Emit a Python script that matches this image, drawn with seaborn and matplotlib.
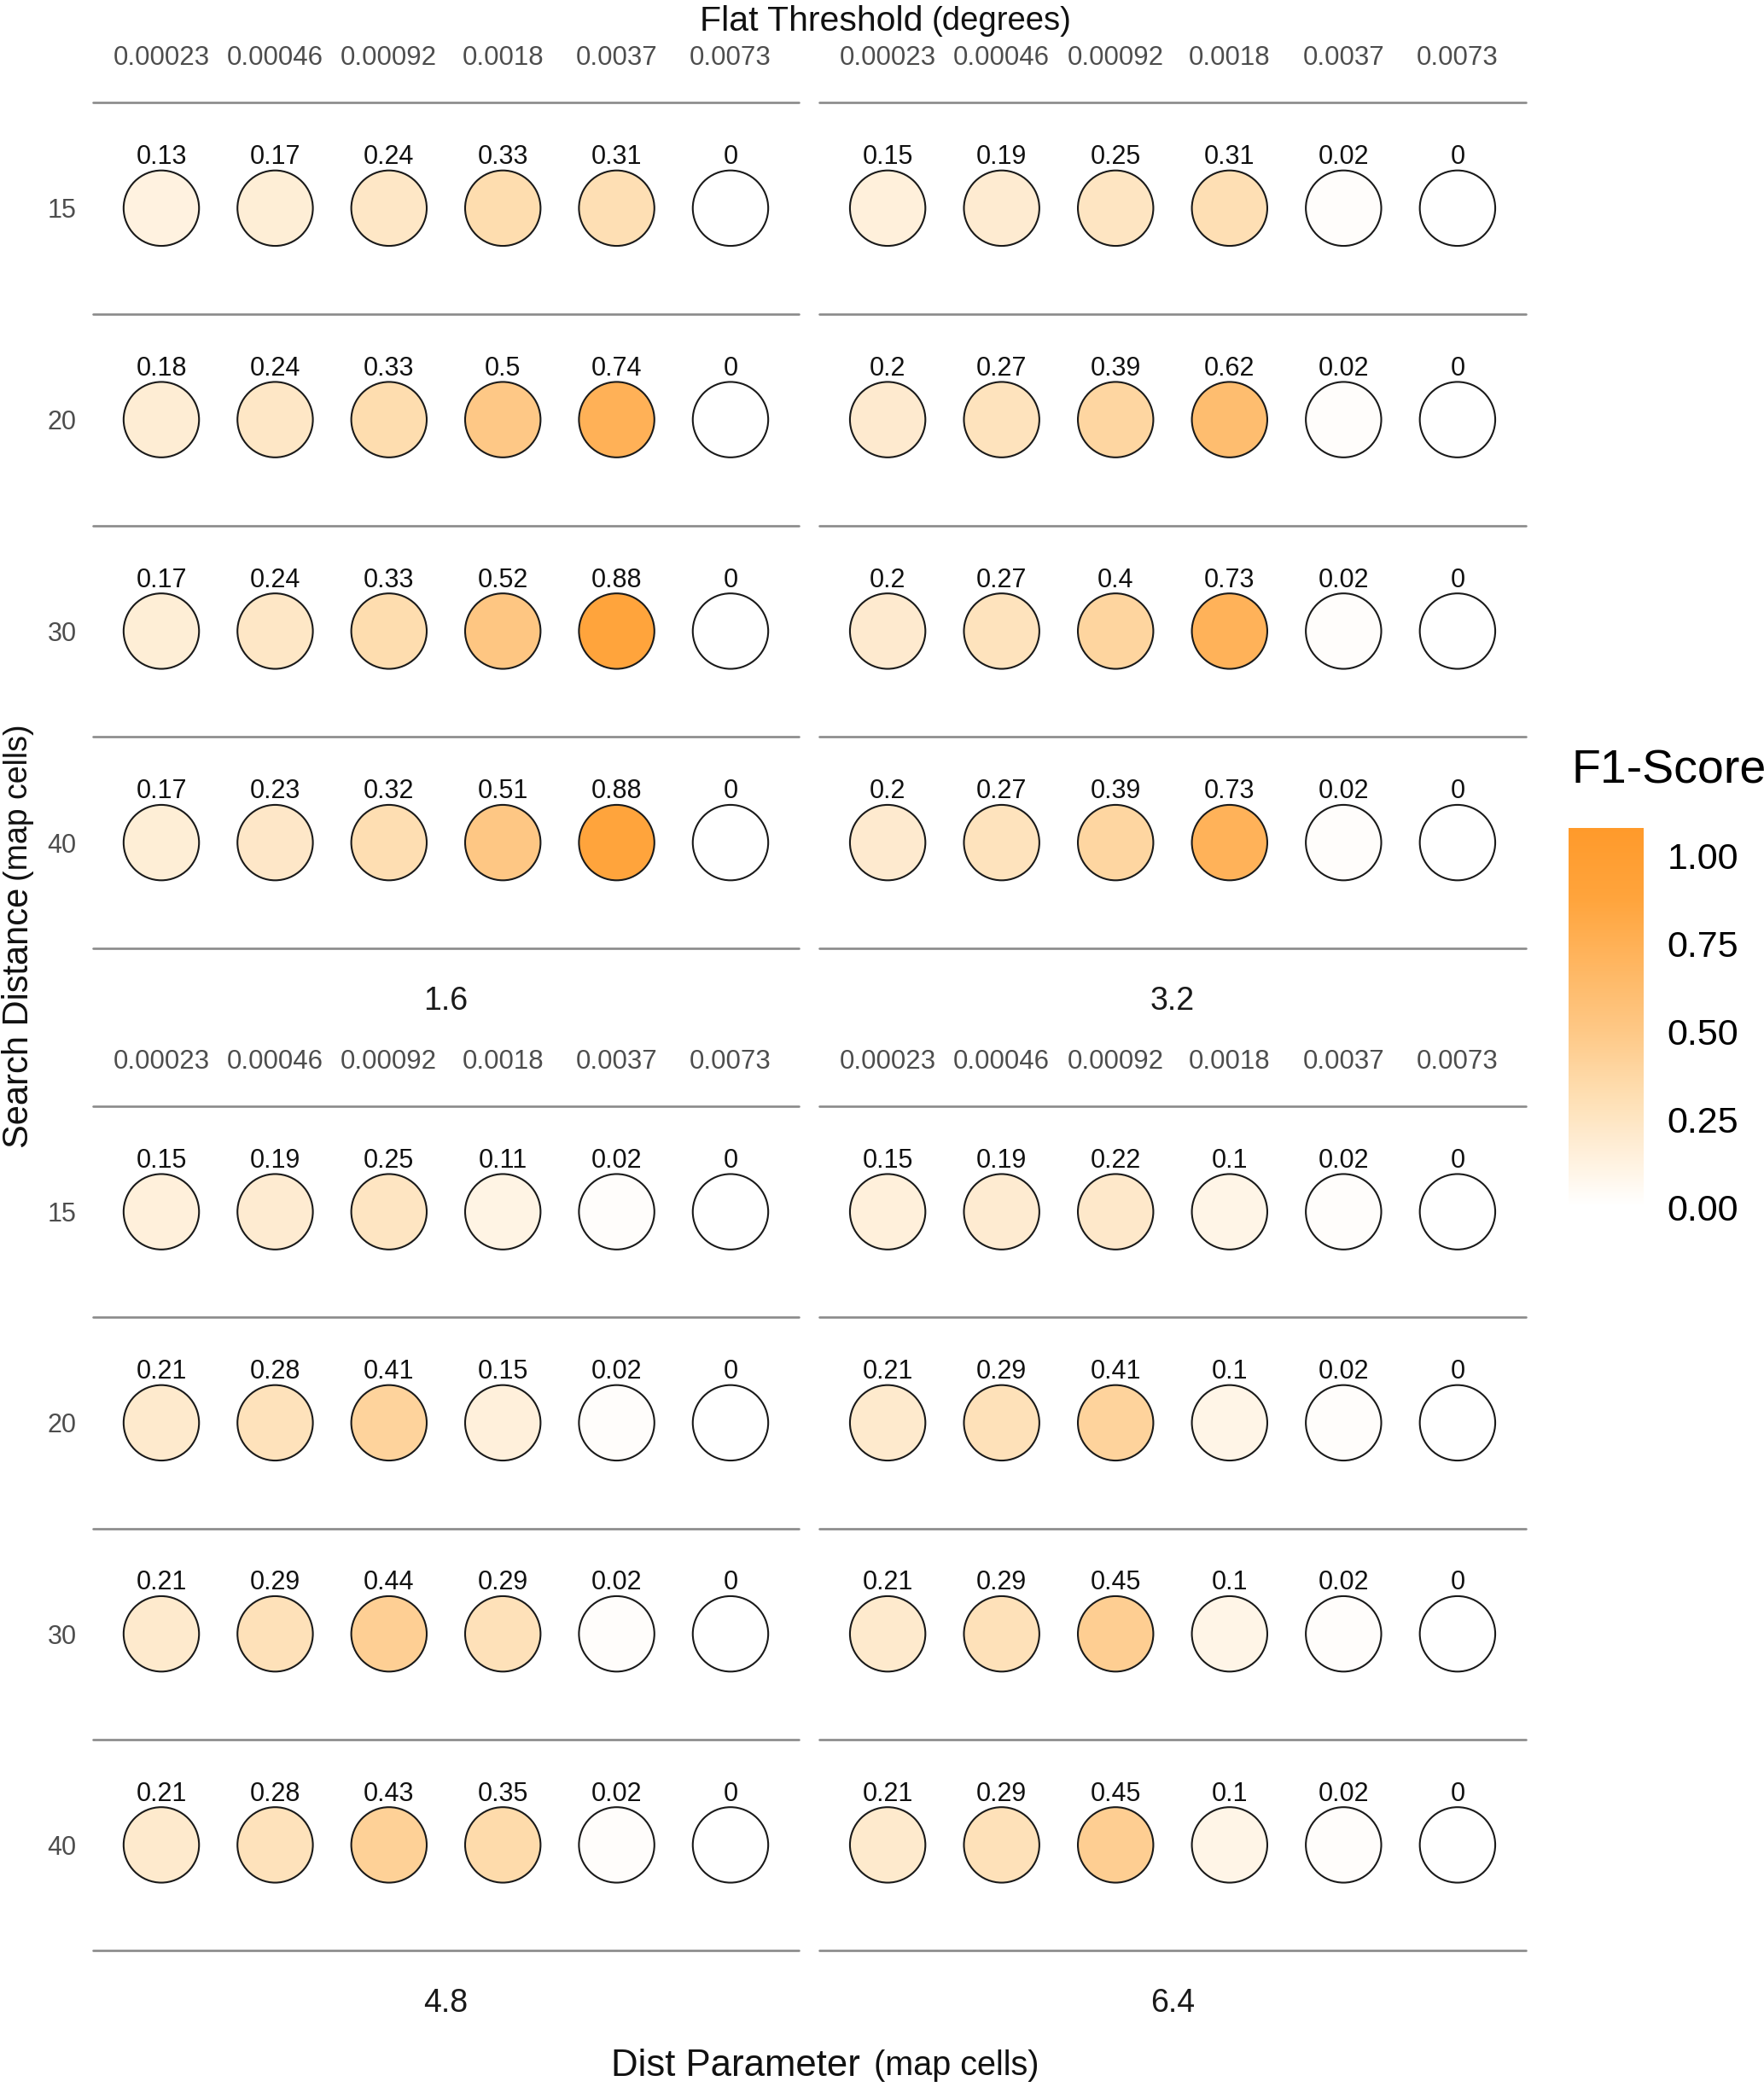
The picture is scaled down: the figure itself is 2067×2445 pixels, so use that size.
import numpy as np
import pandas as pd
import matplotlib
matplotlib.use("Agg")
import matplotlib.pyplot as plt
import matplotlib.colors as mcolors
import seaborn as sns

# data
dist_params = ["1.6", "3.2", "4.8", "6.4"]
search_distances = ["15", "20", "30", "40"]
flat_thresholds = ["0.00023", "0.00046", "0.00092", "0.0018", "0.0037", "0.0073"]

f1_d16 = [[0.13, 0.17, 0.24, 0.33, 0.31, 0],
          [0.18, 0.24, 0.33, 0.5, 0.74, 0],
          [0.17, 0.24, 0.33, 0.52, 0.88, 0],
          [0.17, 0.23, 0.32, 0.51, 0.88, 0]]
f1_d32 = [[0.15, 0.19, 0.25, 0.31, 0.02, 0],
          [0.2, 0.27, 0.39, 0.62, 0.02, 0],
          [0.2, 0.27, 0.4, 0.73, 0.02, 0],
          [0.2, 0.27, 0.39, 0.73, 0.02, 0]]
f1_d48 = [[0.15, 0.19, 0.25, 0.11, 0.02, 0],
          [0.21, 0.28, 0.41, 0.15, 0.02, 0],
          [0.21, 0.29, 0.44, 0.29, 0.02, 0],
          [0.21, 0.28, 0.43, 0.35, 0.02, 0]]
f1_d64 = [[0.15, 0.19, 0.22, 0.1, 0.02, 0],
          [0.21, 0.29, 0.41, 0.1, 0.02, 0],
          [0.21, 0.29, 0.45, 0.1, 0.02, 0],
          [0.21, 0.29, 0.45, 0.1, 0.02, 0]]
f1_all = [f1_d16, f1_d32, f1_d48, f1_d64]

rows = []
for d, grid in zip(dist_params, f1_all):
    for i, sd in enumerate(search_distances):
        for j, ft in enumerate(flat_thresholds):
            rows.append({"dist": d, "search": sd, "flat": ft,
                         "xi": j, "yi": i, "f1": grid[i][j]})
df = pd.DataFrame(rows)

sns.set_theme(style="white")
plt.rcParams["font.family"] = ["Liberation Sans", "DejaVu Sans"]

W, H = 2067, 2445
fig = plt.figure(figsize=(W / 100, H / 100), dpi=100)

VMAX = 1.08
cmap = mcolors.LinearSegmentedColormap.from_list(
    "f1", [(0, "#FFFFFF"), (0.33 / VMAX, "#FEDDAF"), (0.5 / VMAX, "#FEC886"),
           (0.88 / VMAX, "#FFA43C"), (1.0, "#FF9A2B")])
norm = mcolors.Normalize(0, VMAX)


def px_axes(x0, y0, x1, y1):
    return fig.add_axes([x0 / W, 1 - y1 / H, (x1 - x0) / W, (y1 - y0) / H])


panel_x = [(109, 936), (960, 1788)]
panel_y = [(120, 1111), (1296, 2285)]
grey = "#4D4D4D"

for k, d in enumerate(dist_params):
    r, c = divmod(k, 2)
    ax = px_axes(panel_x[c][0], panel_y[r][0], panel_x[c][1], panel_y[r][1])
    sub = df[df["dist"] == d]
    for yl in np.arange(-0.5, 4, 1):
        ax.axhline(yl, color="#8A8A8A", lw=1.9, zorder=0, clip_on=False)
    sns.scatterplot(data=sub, x="xi", y="yi", hue="f1", palette=cmap,
                    hue_norm=norm, s=4050, edgecolor="#1A1A1A", linewidth=1.5,
                    legend=False, ax=ax, zorder=3)
    for _, p in sub.iterrows():
        ax.annotate(f"{p['f1']:g}", (p["xi"], p["yi"]), xytext=(0, 43),
                    textcoords="offset points", ha="center", va="center",
                    fontsize=22, color="#111111")
    ax.set_xlim(-0.6, 5.6)
    ax.set_ylim(3.5, -0.5)
    ax.set_xticks(range(len(flat_thresholds)))
    ax.set_xticklabels(flat_thresholds)
    ax.xaxis.tick_top()
    ax.tick_params(axis="x", length=0, pad=27, labelsize=22.5, labelcolor=grey)
    ax.set_yticks(range(len(search_distances)))
    if c == 0:
        ax.set_yticklabels(search_distances)
        ax.tick_params(axis="y", length=0, pad=14, labelsize=22, labelcolor=grey)
    else:
        ax.set_yticklabels([])
        ax.tick_params(axis="y", length=0)
    ax.set_xlabel("")
    ax.set_ylabel("")
    for s in ax.spines.values():
        s.set_visible(False)
    ax.set_facecolor("none")
    ax.text(0.5, -62 / 990, d, transform=ax.transAxes, ha="center",
            va="center", fontsize=27, color="#1A1A1A")

# axis titles
fig.text(1082 / W, 1 - 25 / H, "Flat Threshold", ha="right", va="center",
         fontsize=29.5, color="#111111")
fig.text(1092 / W, 1 - 25 / H, "(degrees)", ha="left", va="center",
         fontsize=27.5, color="#111111")
fig.text(1008 / W, 1 - 2420 / H, "Dist Parameter", ha="right", va="center",
         fontsize=31.5, color="#111111")
fig.text(1024 / W, 1 - 2420 / H, "(map cells)", ha="left", va="center",
         fontsize=28.5, color="#111111")
fig.text(22 / W, 1 - 1040 / H, "Search Distance", ha="center", va="top",
         rotation=90, fontsize=30, color="#111111")
fig.text(22 / W, 1 - 1032 / H, "(map cells)", ha="center", va="bottom",
         rotation=90, fontsize=27, color="#111111")

# colour legend
fig.text(1842 / W, 1 - 904 / H, "F1-Score", ha="left", va="center",
         fontsize=40, color="black")
cax = px_axes(1838, 970, 1926, 1414)
sm = plt.cm.ScalarMappable(norm=norm, cmap=cmap)
cb = fig.colorbar(sm, cax=cax, ticks=[0, 0.25, 0.5, 0.75, 1.0], format="%.2f")
cb.outline.set_visible(False)
cb.ax.tick_params(length=0, pad=20, labelsize=31, labelcolor="black")

fig.savefig("out.png", dpi=100, facecolor="white")
